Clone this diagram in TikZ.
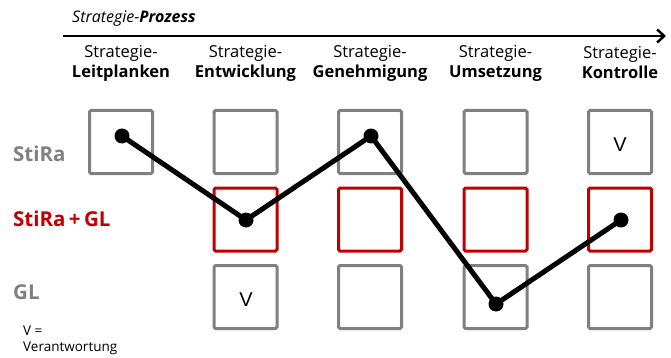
\documentclass[tikz,border=0pt]{standalone}
\usepackage{fontspec}
\setmainfont{Open Sans}
\newfontfamily\markfont{Liberation Sans}
\usetikzlibrary{arrows.meta}
\definecolor{boxgray}{HTML}{808080}
\definecolor{boxred}{HTML}{C00000}
\begin{document}
\begin{tikzpicture}[x=1pt,y=-1pt,
  cell/.style={draw=boxgray, line width=3pt, minimum size=63pt, inner sep=0pt, rounded corners=1.5pt},
  redcell/.style={cell, draw=boxred},
  phase/.style={align=center, font=\fontsize{16.5}{20}\selectfont, inner sep=0pt},
  rowlabel/.style={anchor=west, inner sep=0pt, font=\fontsize{20.5}{24}\selectfont\bfseries},
  vmark/.style={font=\markfont\fontsize{20}{24}\selectfont, inner sep=0pt},
  dot/.style={circle, fill=black, minimum size=15pt, inner sep=0pt},
  link/.style={line width=5pt, black, line join=round},
  note/.style={anchor=west, inner sep=0pt, font=\fontsize{13.5}{16}\selectfont}]
\useasboundingbox (0,0) rectangle (671,358);

% process axis
\node[anchor=west, inner sep=0pt, font=\fontsize{16}{19}\selectfont\itshape] (title) at (72,19) {Strategie-\textbf{Prozess}};
\coordinate (axs) at (63,36);
\coordinate (axe) at (666,36);
\draw[line width=2.5pt, -{Straight Barb[length=7pt,width=13pt,line width=2.5pt]}] (axs) -- (axe);

% phase headers
\node[phase] (h1) at (121,63) {Strategie-\\\textbf{Leitplanken}};
\node[phase] (h2) at (245.5,63) {Strategie-\\\textbf{Entwicklung}};
\node[phase] (h3) at (370,63) {Strategie-\\\textbf{Genehmigung}};
\node[phase] (h4) at (495.5,63) {Strategie-\\\textbf{Umsetzung}};
\node[phase] (h5) at (620,63) {Strategie-\\\textbf{Kontrolle}};

% row labels
\node[rowlabel, text=boxgray] (l1) at (13,154) {StiRa};
\node[rowlabel, text=boxred] (l2) at (13,219) {StiRa\,+\,GL};
\node[rowlabel, text=boxgray] (l3) at (13,292) {GL};

% grid of cells (first phase only in the top row)
\node[cell] (b11) at (121,142) {};
\foreach \c/\x in {2/245.5,3/370,4/495.5,5/620}{
  \node[cell] (b\c1) at (\x,142) {};
  \node[redcell] (b\c2) at (\x,219.5) {};
  \node[cell] (b\c3) at (\x,297) {};
}

% responsibility marks
\node[vmark] (v1) at (620,145) {V};
\node[vmark] (v2) at (246,300) {V};

% path through the phases
\coordinate (p1) at (122,136);
\coordinate (p2) at (246,220);
\coordinate (p3) at (371,136);
\coordinate (p4) at (496,304);
\coordinate (p5) at (621,220);
\draw[link] (p1) -- (p2) -- (p3) -- (p4) -- (p5);
\foreach \i in {1,...,5}{ \node[dot] (d\i) at (p\i) {}; }

% legend
\node[note] (n1) at (23,331) {V =};
\node[note] (n2) at (23,348) {Verantwortung};
\end{tikzpicture}
\end{document}
